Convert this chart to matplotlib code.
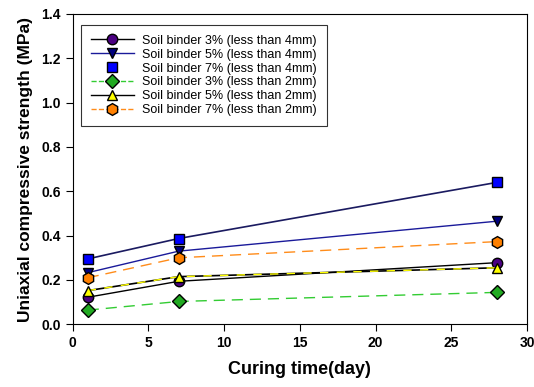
import matplotlib.pyplot as plt
from matplotlib.lines import Line2D

plt.rcParams['font.family'] = ['Liberation Sans', 'DejaVu Sans']

days = [1, 7, 28]
sb3_4mm = [0.122, 0.194, 0.278]
sb5_4mm = [0.233, 0.33, 0.465]
sb7_4mm = [0.295, 0.387, 0.64]
sb3_2mm = [0.064, 0.103, 0.144]
sb5_2mm = [0.152, 0.215, 0.255]
sb7_2mm = [0.21, 0.30, 0.373]

fig = plt.figure(figsize=(5.34, 3.87), dpi=100)
ax = fig.add_axes([0.136, 0.162, 0.851, 0.802])

ms = 7.5
ax.plot(days, sb3_4mm, '-', color='black', lw=1, marker='o', ms=ms,
        mfc='#4b0082', mec='black')
ax.plot(days, sb5_4mm, '-', color='#1a1a9a', lw=1, marker='v', ms=ms,
        mfc='#000080', mec='black')
ax.plot(days, sb7_4mm, '-', color='#1a1a60', lw=1.2, marker='s', ms=ms,
        mfc='#0000ff', mec='black')
ax.plot(days, sb3_2mm, '--', color='#33cc33', lw=1, marker='D', ms=7,
        mfc='#22aa22', mec='black', dashes=(8, 5))
ax.plot(days, sb5_2mm, '-', color='black', lw=1.2, zorder=2)
ax.plot(days, sb5_2mm, '--', color='yellow', lw=1, marker='^', ms=ms,
        mfc='yellow', mec='black', dashes=(6, 6))
ax.plot(days, sb7_2mm, '--', color='#ff8c1a', lw=1, marker='h', ms=ms + 1,
        mfc='#ff8000', mec='black', dashes=(8, 5))

# legend handles drawn to look like the original
handles = [
    Line2D([], [], color='black', lw=1, marker='o', ms=ms, mfc='#4b0082', mec='black'),
    Line2D([], [], color='#1a1a9a', lw=1, marker='v', ms=ms, mfc='#000080', mec='black'),
    Line2D([], [], ls='none', marker='s', ms=ms, mfc='#0000ff', mec='black'),
    Line2D([], [], color='#33cc33', ls='--', lw=1, marker='D', ms=7, mfc='#22aa22', mec='black'),
    Line2D([], [], color='black', lw=1, marker='^', ms=ms, mfc='yellow', mec='black'),
    Line2D([], [], color='#ff8c1a', ls='--', lw=1, marker='h', ms=ms + 1, mfc='#ff8000', mec='black'),
]
labels = ['Soil binder 3% (less than 4mm)', 'Soil binder 5% (less than 4mm)',
          'Soil binder 7% (less than 4mm)', 'Soil binder 3% (less than 2mm)',
          'Soil binder 5% (less than 2mm)', 'Soil binder 7% (less than 2mm)']
leg = ax.legend(handles, labels, loc='upper left', bbox_to_anchor=(0.005, 0.985),
                fontsize=9, frameon=True, fancybox=False, edgecolor='black',
                handlelength=3.4, labelspacing=0.15, borderpad=0.8, handletextpad=0.7)
leg.get_frame().set_linewidth(0.8)

ax.set_xlim(0, 30)
ax.set_ylim(0, 1.4)
ax.set_xticks(range(0, 31, 5))
ax.set_yticks([0.0, 0.2, 0.4, 0.6, 0.8, 1.0, 1.2, 1.4])
ax.set_yticklabels(['0.0', '0.2', '0.4', '0.6', '0.8', '1.0', '1.2', '1.4'])
ax.tick_params(direction='out', length=5, width=0.8, labelsize=10)
for lbl in ax.get_xticklabels() + ax.get_yticklabels():
    lbl.set_fontweight('bold')
for sp in ax.spines.values():
    sp.set_linewidth(0.8)

ax.set_xlabel('Curing time(day)', fontsize=13, fontweight='bold', labelpad=8)
ax.set_ylabel('Uniaxial compressive strength (MPa)', fontsize=12.5, fontweight='bold', labelpad=6)

fig.savefig('out.png', dpi=100)
